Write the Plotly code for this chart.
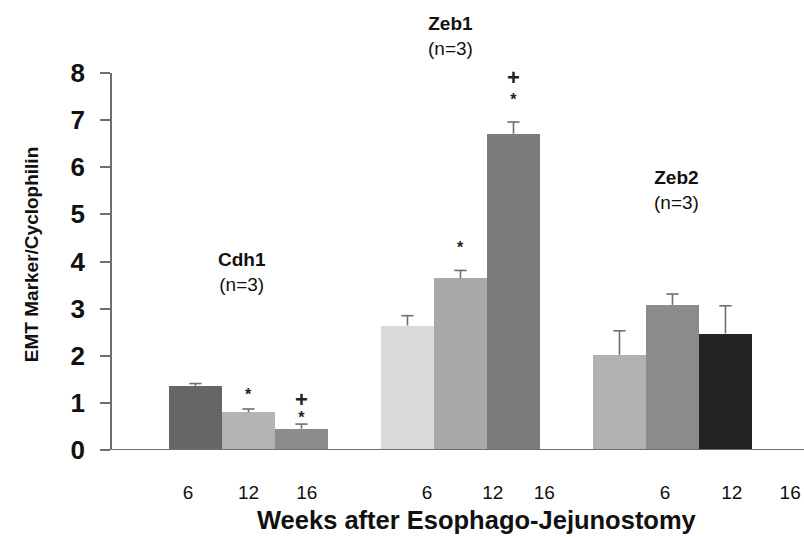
import plotly.graph_objects as go

# ---- data ----
genes = ["Cdh1", "Zeb1", "Zeb2"]
weeks = ["6", "12", "16"]
cdh1_vals = [1.36, 0.80, 0.45]
cdh1_err = [0.05, 0.07, 0.10]
zeb1_vals = [2.64, 3.64, 6.71]
zeb1_err = [0.21, 0.17, 0.25]
zeb2_vals = [2.02, 3.08, 2.47]
zeb2_err = [0.51, 0.23, 0.59]
tick_labels = ["6", "12", "16", "6", "12", "16", "6", "12", "16"]

colors = [
    ["#666666", "#b4b4b4", "#8c8c8c"],
    ["#dadada", "#a9a9a9", "#7b7b7b"],
    ["#b1b1b1", "#8b8b8b", "#232323"],
]

FONT = "Liberation Sans, Arial, sans-serif"
GROUP_STEP = 4
YMAX = 8
values = [cdh1_vals, zeb1_vals, zeb2_vals]
errors = [cdh1_err, zeb1_err, zeb2_err]

fig = go.Figure()
cap = 0.115
for g, (vals, errs) in enumerate(zip(values, errors)):
    xs = [g * GROUP_STEP + i for i in range(len(vals))]
    fig.add_trace(go.Bar(
        x=xs, y=vals, width=1.0,
        marker=dict(color=colors[g], line=dict(width=0)),
        showlegend=False, hoverinfo="skip",
    ))
    ex, ey = [], []
    for x, v, e in zip(xs, vals, errs):
        ex += [x, x, None, x - cap, x + cap, None]
        ey += [v, v + e, None, v + e, v + e, None]
    fig.add_trace(go.Scatter(
        x=ex, y=ey, mode="lines",
        line=dict(color="#6e6e6e", width=1.6),
        showlegend=False, hoverinfo="skip",
    ))

# tick label positions (as printed in the original, offset from the bars)
tick_pos = [-0.14, 1.0, 2.1, 4.37, 5.61, 6.58, 8.86, 10.12, 11.22]

annotations = []
# group labels (x in data units, y in axis units converted to paper)
group_label_pos = [(0.87, 3.78), (4.82, 8.78), (9.08, 5.51)]
for name, (gx, gy) in zip(genes, group_label_pos):
    annotations.append(dict(
        x=gx, y=gy / YMAX, xref="x", yref="paper", showarrow=False,
        text=f"<b>{name}</b><br>(n=3)",
        font=dict(family=FONT, size=19, color="#111111"),
        xanchor="center", yanchor="middle",
    ))

STAR = "<span style='font-size:16px'><b>*</b></span>"
PLUS = "<span style='font-size:22px'><b>+</b></span>"
# significance markers: (x, y, text, line-spacing font size)
sig_marks = [
    (1, 1.18, STAR, 16),
    (2, 0.92, PLUS + "<br>" + STAR, 12),
    (5, 4.29, STAR, 16),
    (6, 7.71, PLUS + "<br>" + STAR, 15),
]
for sx, sy, txt, fs in sig_marks:
    annotations.append(dict(
        x=sx, y=sy / YMAX, xref="x", yref="paper", showarrow=False,
        text=txt,
        font=dict(family=FONT, size=fs, color="#222222"),
        xanchor="center", yanchor="middle",
    ))

annotations.append(dict(
    x=-0.117, y=0.517, xref="paper", yref="paper", showarrow=False,
    text="<b>EMT Marker/Cyclophilin</b>", textangle=-90,
    font=dict(family=FONT, size=19, color="#111111"),
    xanchor="center", yanchor="middle",
))
annotations.append(dict(
    x=0.527, y=-0.186, xref="paper", yref="paper", showarrow=False,
    text="<b>Weeks after Esophago-Jejunostomy</b>",
    font=dict(family=FONT, size=25.5, color="#111111"),
    xanchor="center", yanchor="middle",
))

fig.update_layout(
    width=804, height=537,
    margin=dict(l=112, r=0, t=73, b=87),
    paper_bgcolor="white", plot_bgcolor="white",
    bargap=0, showlegend=False,
    annotations=annotations,
    xaxis=dict(
        range=[-1.575, -1.575 + 692 / 53],
        tickmode="array", tickvals=tick_pos, ticktext=tick_labels,
        ticks="", showgrid=False, zeroline=False,
        showline=False,
        tickfont=dict(family=FONT, size=19, color="#111111"),
        ticklabelstandoff=29,
    ),
    yaxis=dict(
        range=[0, YMAX], tickmode="array", tickvals=list(range(YMAX + 1)),
        ticks="outside", ticklen=10, tickwidth=1.5, tickcolor="#6e6e6e",
        showline=True, linecolor="#6e6e6e", linewidth=1.5,
        showgrid=False, zeroline=False,
        tickfont=dict(family=FONT, size=26, color="#111111", weight="bold"),
        ticklabelstandoff=10,
    ),
    shapes=[dict(type="line", xref="paper", yref="y", x0=0, x1=1, y0=0, y1=0,
                 line=dict(color="#6e6e6e", width=2))],
)

fig.write_html(
    "out.html",
    config={"displayModeBar": False},
    post_script="document.body.style.margin='0';document.body.style.padding='0';",
)
